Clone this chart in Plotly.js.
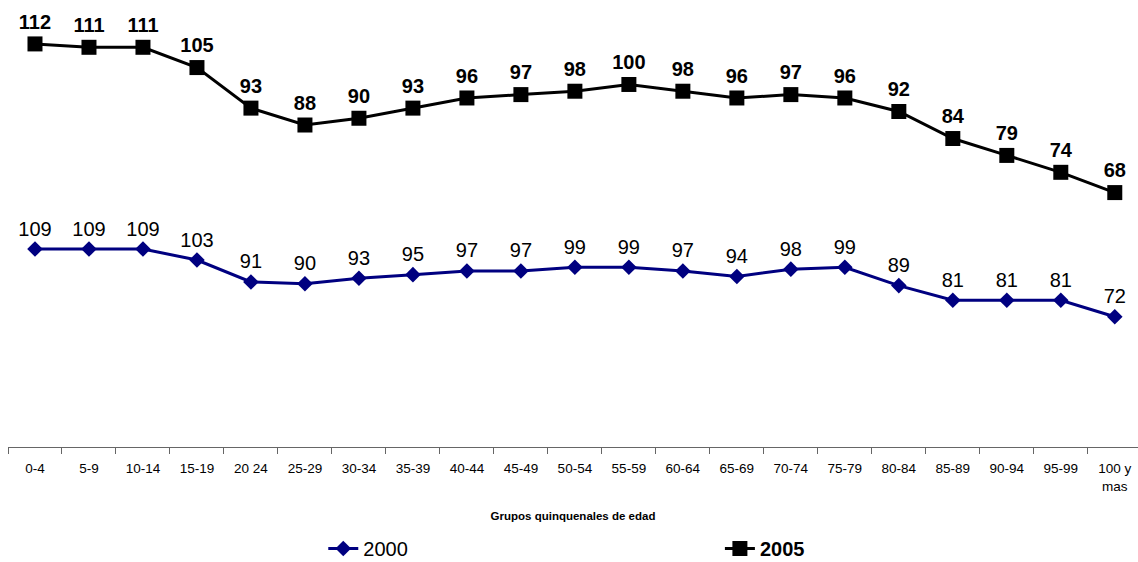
<!DOCTYPE html>
<html>
<head>
<meta charset="utf-8">
<script src="https://cdn.plot.ly/plotly-3.0.1.min.js"></script>
<style>html,body{margin:0;padding:0;background:#fff;}#chart{width:1138px;height:562px;}</style>
</head>
<body>
<div id="chart"></div>
<script>
const categories = ["0-4","5-9","10-14","15-19","20 24","25-29","30-34","35-39","40-44","45-49","50-54","55-59","60-64","65-69","70-74","75-79","80-84","85-89","90-94","95-99","100 y<br>mas"];
const values2000 = [109,109,109,103,91,90,93,95,97,97,99,99,97,94,98,99,89,81,81,81,72];
const values2005 = [112,111,111,105,93,88,90,93,96,97,98,100,98,96,97,96,92,84,79,74,68];
const seriesNames = ["2000","<b>2005</b>"];

const font = "Liberation Sans, Arial, sans-serif";

const trace2000 = {
  x: categories, y: values2000, yaxis: "y2", name: seriesNames[0], legend: "legend",
  type: "scatter", mode: "lines+markers+text",
  text: values2000.map(String), textposition: "top center",
  textfont: {family: font, size: 20, color: "#000"},
  line: {color: "#000080", width: 3},
  marker: {symbol: "diamond", size: 12, color: "#000080"},
  cliponaxis: false
};
const trace2005 = {
  x: categories, y: values2005, yaxis: "y", name: seriesNames[1], legend: "legend2",
  type: "scatter", mode: "lines+markers+text",
  text: values2005.map(String), textposition: "top center",
  textfont: {family: font, size: 20, color: "#000", weight: "bold"},
  line: {color: "#000", width: 3},
  marker: {symbol: "square", size: 15, color: "#000"},
  cliponaxis: false
};

const legendCommon = {
  orientation: "h", xanchor: "left", yref: "container", y: 0.024, yanchor: "middle",
  font: {family: font, size: 20, color: "#000"},
  bgcolor: "rgba(0,0,0,0)"
};

const layout = {
  width: 1138, height: 562,
  margin: {l: 8, r: 0, t: 0, b: 115},
  paper_bgcolor: "#fff", plot_bgcolor: "#fff",
  showlegend: true,
  font: {family: font, color: "#000"},
  xaxis: {
    type: "category", range: [-0.5, 20.43],
    tickson: "boundaries", ticks: "outside", ticklen: 6, tickcolor: "#666",
    showline: true, linecolor: "#666", linewidth: 1,
    showgrid: false, zeroline: false, tickangle: 0,
    ticklabelstandoff: 9,
    tickfont: {family: font, size: 13.5, color: "#000"},
    title: {text: "<b>Grupos quinquenales de edad</b>", font: {family: font, size: 11.5, color: "#000"}, standoff: 19}
  },
  yaxis: {range: [-7.3, 125.0], visible: false, showgrid: false, zeroline: false},
  yaxis2: {range: [0.8, 245.1], overlaying: "y", visible: false, showgrid: false, zeroline: false},
  legend: Object.assign({}, legendCommon, {x: 0.279}),
  legend2: Object.assign({}, legendCommon, {x: 0.630})
};

Plotly.newPlot("chart", [trace2000, trace2005], layout, {displayModeBar: false, staticPlot: true});
</script>
</body>
</html>
